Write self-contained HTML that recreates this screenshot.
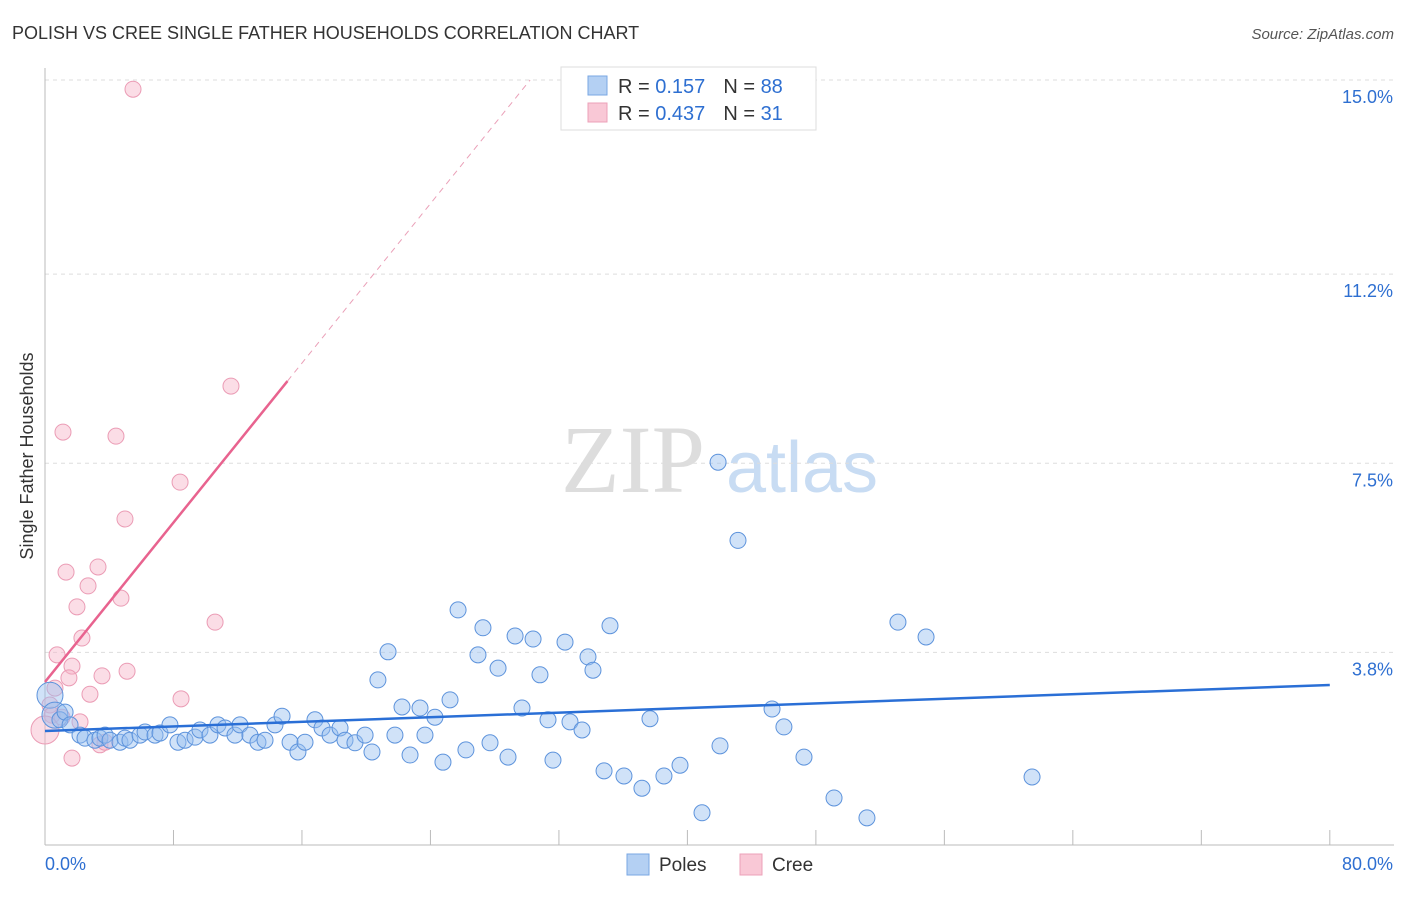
<!DOCTYPE html>
<html><head><meta charset="utf-8"><style>
body{margin:0;background:#fff;font-family:"Liberation Sans",sans-serif;}
svg text{font-family:"Liberation Sans",sans-serif;}
</style></head><body>
<svg id="c" width="1406" height="892" xmlns="http://www.w3.org/2000/svg">
<text x="12" y="39" font-size="18" fill="#333">POLISH VS CREE SINGLE FATHER HOUSEHOLDS CORRELATION CHART</text>
<text x="1394" y="39" font-size="15" fill="#555" font-style="italic" text-anchor="end">Source: ZipAtlas.com</text>
<text x="33" y="456" font-size="18" fill="#333" text-anchor="middle" transform="rotate(-90 33 456)">Single Father Households</text>
<text x="633" y="492" font-size="96" fill="#ddd" font-family="Liberation Serif" text-anchor="middle" style="font-family:'Liberation Serif',serif">ZIP</text>
<text x="802" y="492" font-size="72" fill="#c8dcf3" text-anchor="middle">atlas</text>
<g id="grid"></g><g id="axes"></g><g id="pts"></g><g id="trend"></g>
<g>
<rect x="561" y="67" width="255" height="63" fill="#fff" stroke="#ddd"/>
<rect x="588" y="76" width="19" height="19" fill="#b4d0f3" stroke="#7aa7e3"/>
<rect x="588" y="103" width="19" height="19" fill="#f9c8d6" stroke="#eca1b8"/>
<text x="618" y="93" font-size="20" fill="#333">R = <tspan fill="#2e6fd1"> 0.157</tspan><tspan dx="18">N = </tspan><tspan fill="#2e6fd1">88</tspan></text>
<text x="618" y="120" font-size="20" fill="#333">R = <tspan fill="#2e6fd1">0.437</tspan><tspan dx="18">N = </tspan><tspan fill="#2e6fd1"> 31</tspan></text>
</g>
<g>
<rect x="627" y="854" width="22" height="21" fill="#b4d0f3" stroke="#7aa7e3"/>
<text x="659" y="871" font-size="19" fill="#333">Poles</text>
<rect x="740" y="854" width="22" height="21" fill="#f9c8d6" stroke="#eca1b8"/>
<text x="772" y="871" font-size="19" fill="#333">Cree</text>
</g>
</svg>
<script>
const yTicks=[15.0,11.2,7.5,3.8];
const yTickLabels=["15.0%","11.2%","7.5%","3.8%"];
const xTickLabels=["0.0%","80.0%"];
const polesX=[0.31,0.62,0.93,1.25,1.56,2.18,2.49,3.11,3.42,3.74,4.05,4.67,4.98,5.29,5.92,6.23,6.85,7.16,7.78,8.28,8.72,9.34,9.65,10.27,10.77,11.21,11.83,12.14,12.76,13.26,13.70,14.32,14.76,15.26,15.75,16.19,16.81,17.25,17.75,18.37,18.68,19.30,19.93,20.36,20.73,21.36,21.79,22.23,22.73,23.35,23.66,24.28,24.78,25.22,25.72,26.21,26.96,27.27,27.71,28.21,28.83,29.27,29.70,30.39,30.82,31.32,31.63,32.38,32.69,33.44,33.81,34.12,34.81,35.18,36.05,37.17,37.67,38.54,39.54,40.91,41.91,42.03,43.15,45.27,46.01,47.26,49.13,51.18,53.11,54.86,61.46];
const polesY=[2.96,2.57,2.48,2.63,2.38,2.18,2.12,2.08,2.12,2.18,2.08,2.04,2.12,2.08,2.18,2.24,2.18,2.22,2.38,2.04,2.08,2.14,2.28,2.18,2.38,2.32,2.18,2.38,2.18,2.04,2.08,2.38,2.55,2.04,1.85,2.04,2.48,2.32,2.18,2.32,2.08,2.03,2.18,1.85,3.26,3.81,2.18,2.73,1.79,2.71,2.18,2.53,1.65,2.87,4.63,1.89,3.75,4.28,2.03,3.49,1.75,4.12,2.71,4.06,3.36,2.48,1.69,4.00,2.44,2.28,3.71,3.45,1.48,4.32,1.38,1.14,2.50,1.38,1.59,0.66,7.52,1.97,5.99,2.69,2.34,1.75,0.95,0.56,4.39,4.10,1.36];
const creeX=[5.48,11.58,1.12,4.42,8.41,4.98,1.31,3.30,2.68,1.99,4.73,10.59,2.30,0.75,1.68,5.11,3.55,1.49,0.62,2.80,8.47,0.31,0.44,1.06,2.18,1.68,3.42,3.74,0];
const creeY=[14.82,9.01,8.11,8.03,7.13,6.41,5.37,5.47,5.10,4.69,4.86,4.39,4.08,3.75,3.53,3.43,3.34,3.30,3.10,2.98,2.89,2.77,2.57,2.53,2.44,1.73,1.99,2.04,2.28];
const polesTrend=[2.26,3.16];
const creeTrend=[3.22,0.39];
const X=v=>45+v*16.06, Y=v=>80+(15-v)*51.1;
const NS="http://www.w3.org/2000/svg";
function mk(p,t,a){const e=document.createElementNS(NS,t);for(const k in a)e.setAttribute(k,a[k]);document.getElementById(p).appendChild(e);return e;}
yTicks.forEach((t,i)=>{
 const l=mk('grid','line',{x1:45,x2:1394,y1:Y(t),y2:Y(t),stroke:'#ddd','stroke-dasharray':'4,4'});
 
 
 const tx=mk('grid','text',{x:1393,y:Y(t)+23,'font-size':18,fill:'#2e6fd1','text-anchor':'end'});
 tx.textContent=yTickLabels[i];
 
 
});
const ax=mk('axes','line',{x1:45,x2:45,y1:68,y2:845,stroke:'#bbb'});


const bx=mk('axes','line',{x1:45,x2:1394,y1:845,y2:845,stroke:'#bbb'});


for(let i=0;i<=10;i++){const t=mk('axes','line',{x1:X(i*8),x2:X(i*8),y1:830,y2:845,stroke:'#bbb'});
 
 }
[[0,45,'start'],[80,1393,'end']].forEach((d,i)=>{const t=mk('axes','text',{x:d[1],y:870,'font-size':18,fill:'#2e6fd1','text-anchor':d[2]});t.textContent=xTickLabels[i];
 
 });
creeX.forEach((x,i)=>{const c=mk('pts','circle',{cx:X(x),cy:Y(creeY[i]),r:i==creeX.length-1?14:8,fill:'rgba(246,180,200,0.45)',stroke:'#eb9cb5','stroke-width':1});
 
 });
polesX.forEach((x,i)=>{const c=mk('pts','circle',{cx:X(x),cy:Y(polesY[i]),r:i<2?13:8,fill:'rgba(150,190,240,0.45)',stroke:'#5d93dc','stroke-width':1});
 
 });
const pl=mk('trend','line',{x1:X(0),y1:Y(polesTrend[0]),x2:X(80),y2:Y(polesTrend[1]),stroke:'#2a6fd6','stroke-width':2.5});


const xe=15.1, xd=(15-creeTrend[0])/creeTrend[1];
const cl=mk('trend','line',{x1:X(0),y1:Y(creeTrend[0]),x2:X(xe),y2:Y(creeTrend[0]+creeTrend[1]*xe),stroke:'#e8638f','stroke-width':2.5});


const cd=mk('trend','line',{x1:X(xe),y1:Y(creeTrend[0]+creeTrend[1]*xe),x2:X(xd),y2:Y(15),stroke:'#eaa0b8','stroke-width':1,'stroke-dasharray':'6,5'});


</script>
</body></html>
